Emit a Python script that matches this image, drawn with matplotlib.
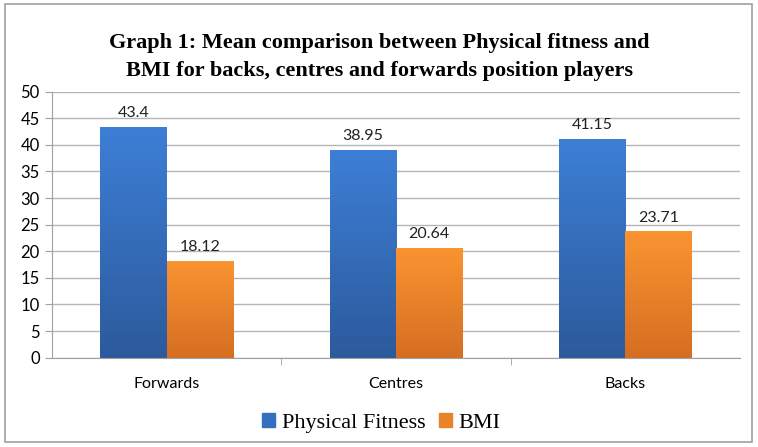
import matplotlib.pyplot as plt
import numpy as np
from matplotlib.patches import Rectangle

categories = ['Forwards', 'Centres', 'Backs']
physical_fitness = [43.4, 38.95, 41.15]
bmi = [18.12, 20.64, 23.71]
fitness_labels = ['43.4', '38.95', '41.15']
bmi_labels = ['18.12', '20.64', '23.71']


def gradient_bars(ax, bars, top_color, bottom_color):
    # vertical gradient fill clipped to each bar
    grad = np.linspace(0, 1, 256).reshape(-1, 1)
    c0 = np.array(plt.matplotlib.colors.to_rgb(top_color))
    c1 = np.array(plt.matplotlib.colors.to_rgb(bottom_color))
    img = (c0 * (1 - grad) + c1 * grad).reshape(256, 1, 3)
    for b in bars:
        x, y = b.get_x(), b.get_y()
        w, h = b.get_width(), b.get_height()
        b.set_facecolor('none')
        im = ax.imshow(img, extent=[x, x + w, y, y + h], aspect='auto',
                       origin='upper', zorder=2)
        im.set_clip_path(b)


fig = plt.figure(figsize=(7.58, 4.47), dpi=100)
fig.patches.append(Rectangle((0.006, 0.012), 0.986, 0.978, transform=fig.transFigure,
                             fill=False, edgecolor='#a0a0a0', linewidth=1.2))

ax = fig.add_axes([0.069, 0.2, 0.907, 0.595])
x = np.arange(len(categories))
w = 0.29
b1 = ax.bar(x - w / 2, physical_fitness, w, color='#3570c0', zorder=2, linewidth=0)
b2 = ax.bar(x + w / 2, bmi, w, color='#f08a2a', zorder=2, linewidth=0)
gradient_bars(ax, b1, '#3d7fd6', '#2c5a9c')
gradient_bars(ax, b2, '#fa9431', '#d56e22')

for xi, v, s in zip(x - w / 2, physical_fitness, fitness_labels):
    ax.text(xi, v + 1.3, s, ha='center', va='bottom', fontsize=11.5,
            family='Lato', color='#222222')
for xi, v, s in zip(x + w / 2, bmi, bmi_labels):
    ax.text(xi, v + 1.3, s, ha='center', va='bottom', fontsize=11.5,
            family='Lato', color='#222222')

ax.set_xlim(-0.5, 2.5)
ax.set_ylim(0, 50)
ax.set_yticks(range(0, 51, 5))
ax.set_xticks(x)
ax.set_xticklabels(categories, family='Lato', fontsize=11.5)
ax.set_xticks([0.5, 1.5], minor=True)
ax.tick_params(axis='x', which='major', length=0, pad=14)
ax.tick_params(axis='x', which='minor', length=5, color='#a0a0a0')
ax.tick_params(axis='y', length=5, color='#a0a0a0', labelsize=12, pad=4)
for lab in ax.get_yticklabels():
    lab.set_family('Lato')
ax.grid(axis='y', color='#b5b5b5', linewidth=1, zorder=0)
ax.set_axisbelow(True)
for s in ['top', 'right']:
    ax.spines[s].set_visible(False)
ax.spines['left'].set_color('#a0a0a0')
ax.spines['bottom'].set_color('#a0a0a0')

fig.text(0.5, 0.873, 'Graph 1: Mean comparison between Physical fitness and\n'
         'BMI for backs, centres and forwards position players',
         ha='center', va='center', fontsize=16, fontweight='bold',
         family='Liberation Serif', linespacing=1.5)

handles = [Rectangle((0, 0), 1, 1, color='#3570c0'), Rectangle((0, 0), 1, 1, color='#e9832a')]
fig.legend(handles, ['Physical Fitness', 'BMI'], loc='center', bbox_to_anchor=(0.503, 0.053),
           ncol=2, frameon=False, prop={'family': 'Liberation Serif', 'size': 16},
           handlelength=0.6, handleheight=0.6, handletextpad=0.3, columnspacing=0.6)

fig.savefig('out.png', dpi=100)
